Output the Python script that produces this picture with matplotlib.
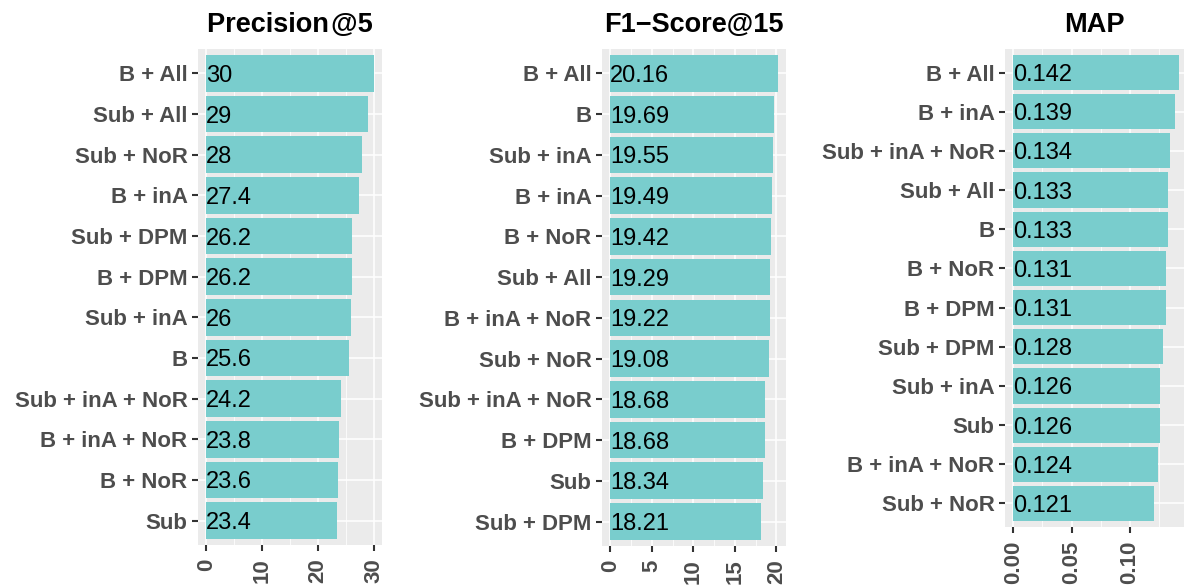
import matplotlib
matplotlib.use("Agg")
import numpy as np
from matplotlib import pyplot as plt
from matplotlib.ticker import MultipleLocator

plt.rcParams['font.family'] = ['Liberation Sans', 'DejaVu Sans']

# data, top bar first
p5_labels = ['B + All', 'Sub + All', 'Sub + NoR', 'B + inA', 'Sub + DPM', 'B + DPM',
             'Sub + inA', 'B', 'Sub + inA + NoR', 'B + inA + NoR', 'B + NoR', 'Sub']
p5_values = [30, 29, 28, 27.4, 26.2, 26.2, 26, 25.6, 24.2, 23.8, 23.6, 23.4]
p5_text = ['30', '29', '28', '27.4', '26.2', '26.2', '26', '25.6', '24.2', '23.8', '23.6', '23.4']

f1_labels = ['B + All', 'B', 'Sub + inA', 'B + inA', 'B + NoR', 'Sub + All',
             'B + inA + NoR', 'Sub + NoR', 'Sub + inA + NoR', 'B + DPM', 'Sub', 'Sub + DPM']
f1_values = [20.16, 19.69, 19.55, 19.49, 19.42, 19.29, 19.22, 19.08, 18.68, 18.68, 18.34, 18.21]
f1_text = ['20.16', '19.69', '19.55', '19.49', '19.42', '19.29', '19.22', '19.08', '18.68',
           '18.68', '18.34', '18.21']

map_labels = ['B + All', 'B + inA', 'Sub + inA + NoR', 'Sub + All', 'B', 'B + NoR',
              'B + DPM', 'Sub + DPM', 'Sub + inA', 'Sub', 'B + inA + NoR', 'Sub + NoR']
map_values = [0.142, 0.139, 0.134, 0.133, 0.133, 0.131, 0.131, 0.128, 0.126, 0.126, 0.124, 0.121]
map_text = ['0.142', '0.139', '0.134', '0.133', '0.133', '0.131', '0.131', '0.128', '0.126',
            '0.126', '0.124', '0.121']

titles = ['Precision\u200a@5', 'F1\u2212Score@15', 'MAP']

W, H = 1184, 588
fig = plt.figure(figsize=(W / 100, H / 100), dpi=100)

bar_col = '#79CDCD'
bg = '#EBEBEB'

# panel boxes in pixels: left, width, bottom (top is shared)
panels = [
    (p5_labels, p5_values, p5_text, titles[0], 198, 184, 545, 10, None, '{:g}'),
    (f1_labels, f1_values, f1_text, titles[1], 602, 184, 546, 5, None, '{:g}'),
    (map_labels, map_values, map_text, titles[2], 1005, 179, 527, 0.05, 0.1463, '{:.2f}'),
]

top = 49
for labels, values, texts, title, left, width, bottom, step, xmax, fmt in panels:
    ax = fig.add_axes([left / W, 1 - bottom / H, width / W, (bottom - top) / H])
    n = len(values)
    y = np.arange(n)[::-1] + 1
    vmax = max(values)
    pad = vmax * 0.05
    ax.set_facecolor(bg)
    ax.barh(y, values, height=0.9, color=bar_col, zorder=2)
    for yy, t in zip(y, texts):
        ax.text(0, yy, t, ha='left', va='center_baseline', fontsize=17, color='black', zorder=3)
    ax.set_xlim(-pad, xmax if xmax else vmax + pad)
    ax.set_ylim(0.4, n + 0.6)
    ax.set_yticks(y)
    ax.set_yticklabels(labels, fontsize=16, fontweight='bold', color='#4D4D4D')
    ax.xaxis.set_minor_locator(MultipleLocator(step / 2))
    ticks = [v for v in np.arange(0, vmax + 1e-9, step)]
    ax.set_xticks(ticks)
    ax.set_xticklabels([fmt.format(v) for v in ticks], rotation=90, fontsize=16,
                       fontweight='bold', color='#4D4D4D')
    ax.grid(which='major', color='white', linewidth=1.1, zorder=1)
    ax.grid(which='minor', axis='x', color='white', linewidth=0.55, zorder=1)
    ax.set_axisbelow(True)
    ax.tick_params(which='major', length=4.5, width=1.5, color='#333333', pad=3)
    ax.tick_params(axis='x', which='major', pad=5)
    ax.tick_params(which='minor', length=0)
    for s in ax.spines.values():
        s.set_visible(False)
    ax.set_title(title, fontsize=19.5, fontweight='bold', pad=12)

fig.savefig('out.png', dpi=100)
